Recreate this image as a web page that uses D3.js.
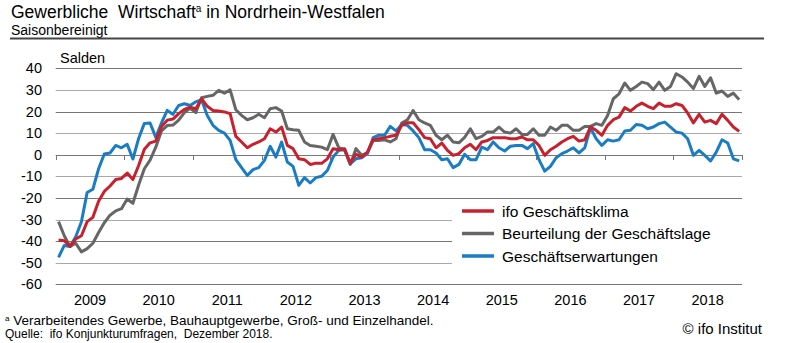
<!DOCTYPE html>
<html>
<head>
<meta charset="utf-8">
<script src="https://cdn.jsdelivr.net/npm/d3@7"></script>
<style>
  body { margin: 0; background: #fff; }
  text { font-family: "Liberation Sans", Arial, sans-serif; fill: #000; white-space: pre; }
</style>
</head>
<body>
<div id="chart"></div>
<script>
// years shown on the x axis (monthly data Jan 2009 - Dec 2018)
var years = [2009, 2010, 2011, 2012, 2013, 2014, 2015, 2016, 2017, 2018];
var yTicks = [40, 30, 20, 10, 0, -10, -20, -30, -40, -50, -60];

// ifo Geschäftsklima
var klima = [-39.5, -39.8, -42.5, -39, -37.5, -31, -29, -21.5, -17, -14.5, -11.5, -11,
  -8.5, -11.5, -5, 2.5, 5.5, 6.3, 13, 16, 16.5, 19, 21, 22,
  21.3, 25.9, 22.4, 20.5, 20.2, 19.8, 19, 8.5, 5.9, 3.2, 4.8, 5.9,
  7.4, 12, 10.5, 12.8, 4.3, 2.8, -1.9, -2.3, -4.5, -3.9, -4, -1.9,
  2.8, 2.3, 2.8, -3.9, 0.2, -1.1, 1.2, 6.9, 7.4, 7.9, 8.5, 9,
  13.6, 14.8, 14.8, 11.6, 7.9, 7.4, 3.2, 5.4, 2, -0.3, 0.5, 3.2,
  4.8, 2.3, 5.9, 6.6, 7.9, 7.9, 7.9, 7.4, 7.4, 8.2, 6.9, 6.9,
  4.3, -0.3, 2.3, 3.9, 5.9, 7.4, 8.5, 6.3, 6.9, 12.8, 11.3, 9,
  13.6, 16.2, 17.4, 21.8, 20.2, 22.4, 23.9, 22.4, 21.3, 23.9, 22.4, 22.4,
  23.6, 22.8, 19.3, 14.7, 18.7, 15.1, 15.9, 14.4, 18.7, 15.9, 12.8, 10.8];

// Beurteilung der Geschäftslage
var lage = [-31, -37.5, -42.5, -41, -45, -43.5, -41, -36, -31.5, -28, -26, -25,
  -20.5, -22.5, -14, -6.5, -2.5, 3.5, 11, 13.5, 13.7, 16, 19.5, 21.5,
  19.5, 26.4, 27, 27.5, 29.8, 28.5, 30, 20.8, 18.2, 16.2, 17.1, 18.7,
  17.1, 21.3, 21.8, 20.2, 12, 11.6, 11.3, 5.9, 4.3, 3.9, 3.5, 2.3,
  9.4, 3.2, 2.3, -4.5, 2.8, -0.3, 0.8, 6.6, 6.6, 6.9, 5.9, 7.4,
  14.7, 16.2, 20.5, 16.2, 14.7, 13.6, 9, 6.9, 9, 5.9, 5.5, 8,
  12, 7.4, 8.5, 10.5, 10.5, 12.8, 10.5, 10, 12, 9.4, 9.4, 12,
  9, 9, 12.8, 11.3, 13.6, 13.6, 11.3, 11.3, 13.1, 13.1, 14.4, 13.6,
  18.2, 25.9, 28.2, 33.2, 29.8, 31.6, 33.6, 32.9, 30.1, 33.6, 29.8, 31.6,
  37.5, 36, 33.6, 30.6, 36.3, 31.6, 35.6, 28.5, 29.5, 27, 28.5, 25.5];

// Geschäftserwartungen
var erwartungen = [-47.5, -42, -42.5, -38, -31, -17.5, -16, -6.5, 0.3, 0.8, 4.3, 3.2,
  4.8, -2, 7.5, 14.5, 14.7, 8, 14.7, 20.5, 18.7, 22.8, 23.6, 22.8,
  24.5, 25.5, 18.2, 13.6, 11.3, 10, 6.6, -2.3, -6, -9.6, -6.9, -6,
  -2.6, 3.9, -1.1, 5.9, -3.4, -5.4, -14.2, -10.6, -13.1, -10.6, -10, -7.3,
  -1.1, 2, 2.3, -4.2, -1.9, -1.4, 0.5, 7.9, 9, 9, 13.1, 11,
  14, 13.6, 11, 7.9, 2.3, 2.3, 0.8, -2.3, -1.9, -6, -4.5, 0.2,
  -2.3, -2.3, 3.5, 2.3, 5.9, 3.2, 1.7, 3.9, 4.3, 4.3, 2.8, 5.1,
  -2.3, -7.6, -5.4, -1.4, 0.5, 1.7, 3.2, 0.8, 3.2, 12.5, 7.4, 4.3,
  6.9, 6.3, 6.9, 11, 11.3, 14, 13.6, 12, 12.8, 14.4, 15.1, 12.8,
  10.5, 10, 7.4, -0.3, 2, -0.3, -2.9, 1.2, 6.9, 5.4, -1.9, -2.9];

var seriesNames = ["ifo Geschäftsklima", "Beurteilung der Geschäftslage", "Geschäftserwartungen"];
var seriesColors = ["#c8202c", "#666666", "#1a7dc4"];
var seriesData = [klima, lage, erwartungen];

var width = 800;
var height = 343;

var svg = d3.select("#chart").append("svg")
  .attr("width", width)
  .attr("height", height);

var x = d3.scaleLinear().domain([0, years.length * 12]).range([55.7, 742]);
var y = d3.scaleLinear().domain([-60, 40]).range([284.3, 68.3]);

// title block
var title = svg.append("text").attr("x", 11).attr("y", 18).style("font-size", "17.5px");
title.append("tspan").text("Gewerbliche  Wirtschaft");
title.append("tspan").attr("dy", -6).style("font-size", "10px").text("a");
title.append("tspan").attr("dy", 6).text(" in Nordrhein-Westfalen");
svg.append("text").attr("x", 11).attr("y", 34.5).style("font-size", "14px").text("Saisonbereinigt");
svg.append("line").attr("x1", 10).attr("x2", 764).attr("y1", 38.5).attr("y2", 38.5)
  .attr("stroke", "#444").attr("stroke-width", 2);

svg.append("text").attr("x", 60).attr("y", 63).style("font-size", "14.5px").text("Salden");

// gridlines
svg.append("g").selectAll("line").data(yTicks).enter().append("line")
  .attr("x1", x(0)).attr("x2", x(120))
  .attr("y1", function(d) { return Math.round(y(d)) + 0.5; })
  .attr("y2", function(d) { return Math.round(y(d)) + 0.5; })
  .attr("stroke", function(d, i) { return i % 2 == 0 ? "#777" : "#aaa"; })
  .attr("stroke-width", 1);

// y labels
svg.append("g").selectAll("text").data(yTicks).enter().append("text")
  .attr("x", 42).attr("y", function(d) { return y(d) + 5; })
  .attr("text-anchor", "end").style("font-size", "14.5px")
  .text(function(d) { return d; });

// year ticks on zero line
var yearTicks = d3.range(0, 121, 12);
svg.append("g").selectAll("line").data(yearTicks).enter().append("line")
  .attr("x1", function(d) { return Math.round(x(d)) + 0.5; })
  .attr("x2", function(d) { return Math.round(x(d)) + 0.5; })
  .attr("y1", Math.round(y(0))).attr("y2", Math.round(y(0)) + 5)
  .attr("stroke", "#777");

// year labels
svg.append("g").selectAll("text").data(years).enter().append("text")
  .attr("x", function(d, i) { return x(i * 12 + 6); }).attr("y", 305)
  .attr("text-anchor", "middle").style("font-size", "14.5px")
  .text(function(d) { return d; });

// legend background, hides gridlines behind it
var lx = 452;
svg.append("rect").attr("x", lx).attr("y", y(-20) + 2).attr("width", x(120) - lx + 2)
  .attr("height", y(-60) - y(-20) - 4).attr("fill", "#fff");

// series lines
var line = d3.line()
  .x(function(d, i) { return x(i + 0.5); })
  .y(function(d) { return y(d); });

// draw grey first, then blue, red on top
[1, 2, 0].forEach(function(k) {
  svg.append("path").datum(seriesData[k])
    .attr("d", line)
    .attr("fill", "none")
    .attr("stroke", seriesColors[k])
    .attr("stroke-width", 3)
    .attr("stroke-linejoin", "round");
});

// legend
var leg = svg.append("g").selectAll("g").data(seriesNames).enter().append("g")
  .attr("transform", function(d, i) { return "translate(0," + (211 + i * 22.5) + ")"; });
leg.append("line").attr("x1", 462).attr("x2", 494).attr("y1", 0).attr("y2", 0)
  .attr("stroke", function(d, i) { return seriesColors[i]; }).attr("stroke-width", 3.5);
leg.append("text").attr("x", 502).attr("y", 5.5).style("font-size", "15.5px")
  .text(function(d) { return d; });

// footnotes
var fn = svg.append("text").attr("x", 5).attr("y", 325).style("font-size", "13.5px");
fn.append("tspan").attr("dy", -4).style("font-size", "8px").text("a");
fn.append("tspan").attr("dy", 4).text(" Verarbeitendes Gewerbe, Bauhauptgewerbe, Groß- und Einzelhandel.");
svg.append("text").attr("x", 5).attr("y", 338).style("font-size", "12px")
  .text("Quelle:  ifo Konjunkturumfragen,  Dezember 2018.");
svg.append("text").attr("x", 762).attr("y", 334).attr("text-anchor", "end")
  .style("font-size", "15px").text("© ifo Institut");
</script>
</body>
</html>
